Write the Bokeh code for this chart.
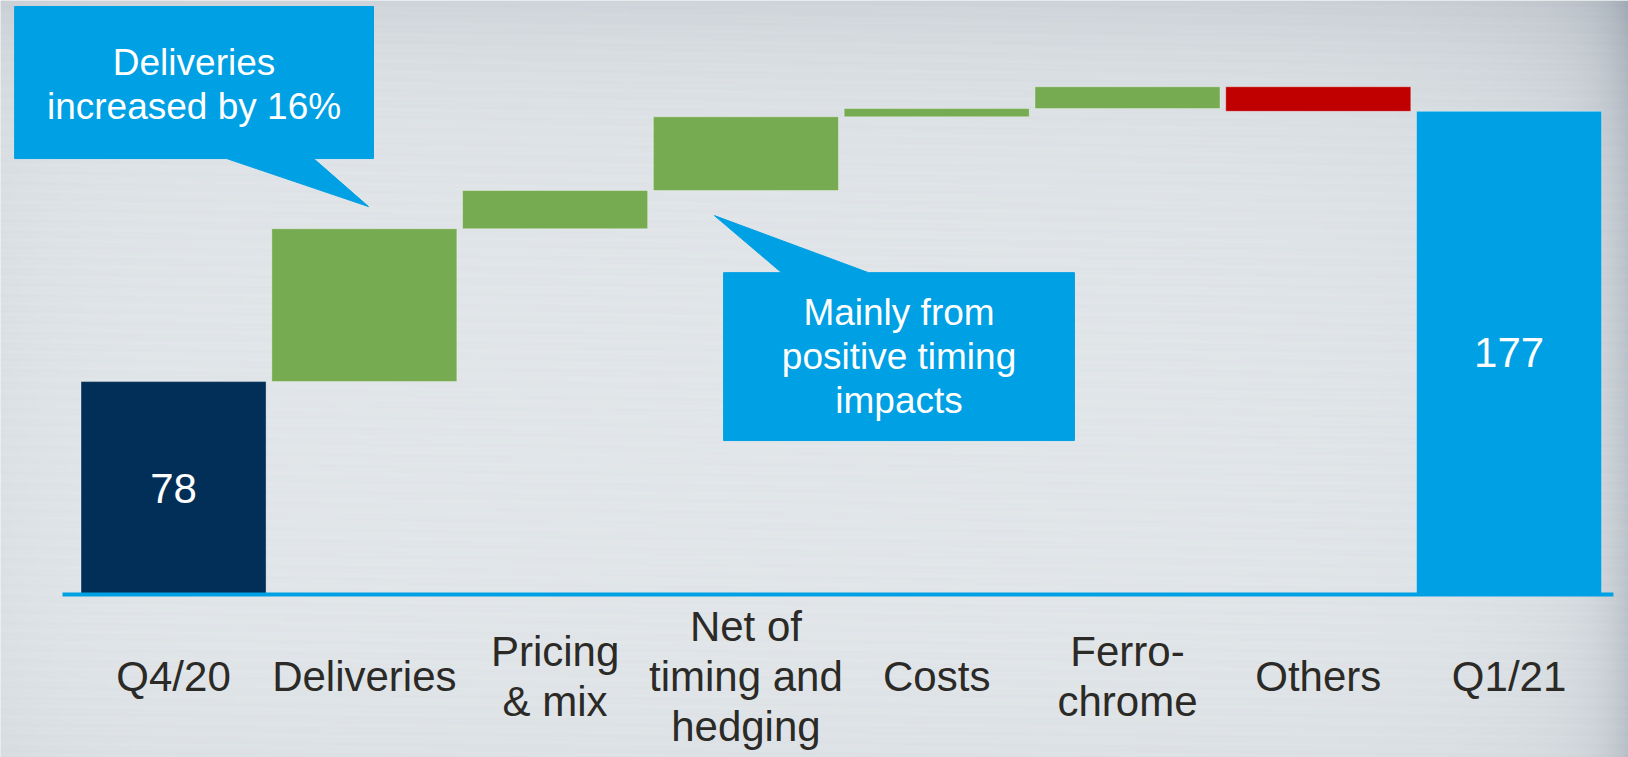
import numpy as np
from bokeh.plotting import figure
from bokeh.models import Range1d
from bokeh.core.properties import value
from bokeh.embed import file_html
from bokeh.resources import INLINE

# ---- data -------------------------------------------------------------
categories = ["Q4/20", "Deliveries", "Pricing\n& mix", "Net of\ntiming and\nhedging",
              "Costs", "Ferro-\nchrome", "Others", "Q1/21"]
opening = 78
changes = [56, 14, 27, 3, 8, -9]
closing = 177
callout_texts = ["Deliveries\nincreased by 16%", "Mainly from\npositive timing\nimpacts"]

# ---- styles -----------------------------------------------------------
NAVY = "#022f57"
BLUE = "#00a0e4"
GREEN = "#76ab51"
RED = "#c00000"
LABEL = "#2b2a26"
FONT = value("Liberation Sans")

# ---- waterfall geometry ----------------------------------------------
n = len(categories)
xs = list(range(n))
bottoms, tops, colors = [0], [opening], [NAVY]
level = opening
for c in changes:
    bottoms.append(min(level, level + c))
    tops.append(max(level, level + c))
    colors.append(GREEN if c > 0 else RED)
    level += c
bottoms.append(0)
tops.append(closing)
colors.append(BLUE)

W, H = 1628, 757
x0, x1 = -0.907, 7.626
y0, y1 = -59.7, 217.6

p = figure(width=W, height=H, x_range=Range1d(x0, x1), y_range=Range1d(y0, y1),
           output_backend="svg", toolbar_location=None, min_border=0,
           x_axis_location=None, y_axis_location=None)
p.grid.visible = False
p.outline_line_color = None
p.background_fill_color = "#e3e7ea"
p.border_fill_color = "#e3e7ea"

# brushed-metal style backdrop: light centre, darker top strip and right edge,
# with faint horizontal brushing
gw, gh = W // 2, H // 2
gx = np.linspace(0, W, gw)
gy = np.linspace(H, 0, gh)          # row 0 is the bottom of the image
X, Y = np.meshgrid(gx, gy)
d = (0.03 + 0.13 * np.exp(-Y / 60) + 0.05 * np.exp(-Y / 200)
     + 0.22 * np.exp(-(W - X) / 25) + 0.12 * np.exp(-(W - X) / 120)
     + 0.08 * np.exp(-(W - X) / 300) * np.exp(-Y / 200)
     + 0.05 * np.exp(-X / 80) + 0.05 * np.exp(-(H - Y) / 80))
brush = 0.018 * np.sin(Y * 1.9) * np.sin(X * 0.011 + Y * 0.73)
d = d + brush
base = np.array([230, 234, 237], dtype=float)
dark = np.array([120, 132, 146], dtype=float)
rgb = base - d[..., None] * (base - dark)
img = np.empty((gh, gw), dtype=np.uint32)
view = img.view(dtype=np.uint8).reshape((gh, gw, 4))
view[..., :3] = np.clip(rgb, 0, 255).astype(np.uint8)
view[..., 3] = 255
p.image_rgba(image=[img], x=x0, y=y0, dw=x1 - x0, dh=y1 - y0)

# bars
p.vbar(x=xs, width=0.97, bottom=bottoms, top=tops, fill_color=colors,
       line_color="white", line_alpha=0.35, line_width=1)

# baseline
p.line(x=[-0.582, n - 1 + 0.547], y=[0, 0], line_color=BLUE, line_width=4)

# totals written inside their bars
p.text(x=[0, n - 1], y=[opening / 2, closing / 2], text=[str(opening), str(closing)],
       text_align="center", text_baseline="middle", text_color="white",
       text_font=FONT, text_font_size="42px")

# category labels under the baseline
p.text(x=xs, y=[-30.0] * n, text=categories, text_align="center",
       text_baseline="middle", text_color=LABEL, text_font=FONT,
       text_font_size="42px", text_line_height=1.07)


# speech-bubble callouts
def bubble(rx0, rx1, ry0, ry1, ta, tb, tip, on_top):
    tx, ty = tip
    if on_top:
        px = [rx0, ta, tx, tb, rx1, rx1, rx0]
        py = [ry1, ry1, ty, ry1, ry1, ry0, ry0]
    else:
        px = [rx0, rx1, rx1, tb, tx, ta, rx0]
        py = [ry1, ry1, ry0, ry0, ty, ry0, ry0]
    p.patch(px, py, fill_color=BLUE, line_color=BLUE, line_width=1)


bubble(-0.833, 1.048, 159.7, 215.4, 0.278, 0.734, (1.022, 142.1), False)
bubble(2.883, 4.722, 56.4, 117.9, 3.187, 3.643, (2.835, 138.8), True)

p.text(x=[(-0.833 + 1.048) / 2, (2.883 + 4.722) / 2],
       y=[(159.7 + 215.4) / 2 - 0.8, (56.4 + 117.9) / 2],
       text=callout_texts, text_align="center", text_baseline="middle",
       text_color="white", text_font=FONT, text_font_size="37px",
       text_line_height=1.07)

open("out.html", "w").write(file_html(p, INLINE))
